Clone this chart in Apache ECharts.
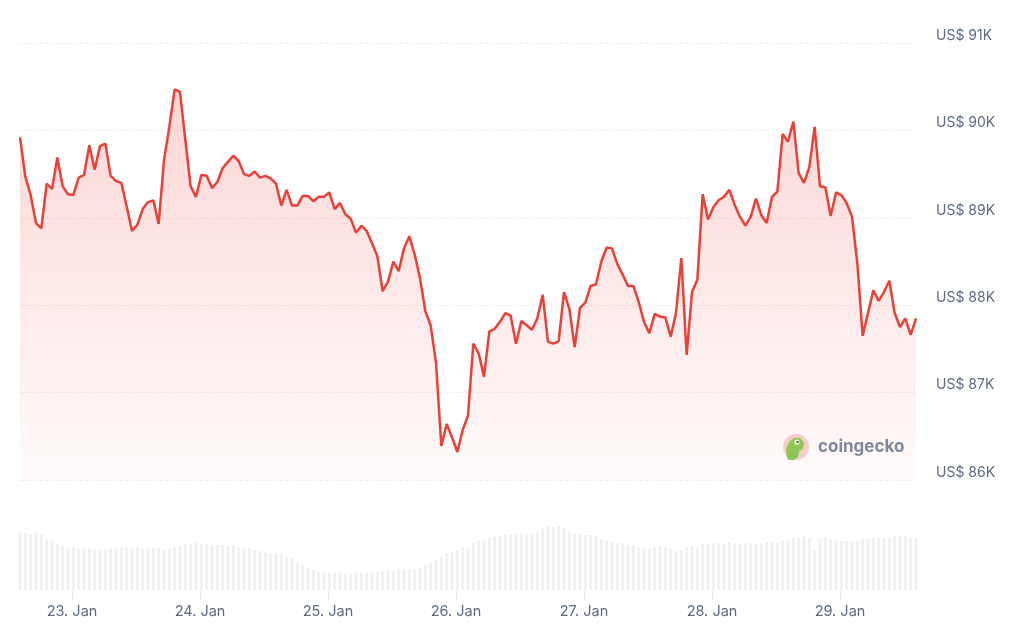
<!DOCTYPE html>
<html>
<head>
<meta charset="utf-8">
<script src="https://cdn.jsdelivr.net/npm/echarts@6/dist/echarts.min.js"></script>
<style>
  html, body { margin: 0; padding: 0; background: #ffffff; }
  #chart { width: 1024px; height: 633px; }
</style>
</head>
<body>
<div id="chart"></div>
<script>
// x positions are hours relative to 23 Jan 00:00; first point at 22 Jan 14:15
const startHour = -9.75;

// BTC price in USD, one point per hour
const prices = [
  89920, 89470, 89260, 88940, 88880, 89390, 89330, 89690, 89360, 89270,
  89260, 89460, 89490, 89830, 89550, 89820, 89850, 89480, 89420, 89400,
  89130, 88850, 88920, 89100, 89180, 89200, 88930, 89660, 90040, 90470,
  90440,
  89890, 89360, 89240, 89490, 89480, 89340, 89410, 89570, 89640, 89710,
  89650, 89500, 89480, 89530, 89460, 89480, 89450, 89390, 89140, 89320,
  89140, 89140, 89250, 89250, 89190, 89240, 89240, 89290, 89100, 89170,
  89040,
  88990, 88830, 88910, 88850, 88710, 88560, 88160, 88270, 88500, 88390,
  88650, 88790, 88580, 88310, 87930, 87770, 87340, 86390, 86640, 86490,
  86320, 86570, 86740, 87560, 87450,
  87180, 87700, 87730, 87810, 87910, 87880, 87560, 87820, 87770, 87720,
  87850, 88120, 87580, 87560, 87590, 88150, 87960, 87520, 87970, 88030,
  88220, 88240, 88500, 88660, 88650, 88470, 88350, 88220,
  88220, 88040, 87810, 87680, 87900, 87870, 87860, 87640, 87910, 88540,
  87430, 88150, 88290, 89270, 88980, 89120, 89200, 89240, 89320, 89150,
  89010, 88910, 89010, 89220, 89030, 88940, 89240, 89300, 89960, 89870,
  90100,
  89510, 89400, 89580, 90040, 89360, 89350, 89020, 89290, 89260, 89170,
  89010, 88480, 87650, 87910, 88170, 88050, 88150, 88280, 87910, 87750,
  87850, 87660, 87850
];

// Volume (relative units), one bar per hour
const volumes = [
  172, 172, 168, 172, 165, 150, 150, 140, 132, 128,
  128, 125, 125, 125, 122, 122, 122, 125, 125, 128,
  128, 128, 128, 125, 125, 125, 125, 120, 125, 128,
  132, 138, 140, 142, 140, 138, 135, 135, 135, 132,
  132, 128, 128, 125, 120, 117, 113, 110, 110, 110,
  98, 95, 82, 75, 68, 60, 55, 52, 52, 52,
  52, 48, 50, 52, 52, 52, 55, 55, 58, 58,
  58, 62, 62, 62, 62, 65, 75, 80, 90, 100,
  110, 112, 120, 128,
  125, 142, 147, 153, 157, 160, 163, 167, 167, 170,
  170, 167, 170, 175, 185, 193, 190, 193, 185, 175,
  170, 168, 165, 165, 160, 152, 148, 145, 140, 140,
  135, 132, 128, 128, 125, 128, 132, 128, 125, 117,
  120, 128, 132, 128, 140, 140, 140, 140, 140, 143,
  140, 140, 140, 140, 140, 140, 143, 143, 143, 147,
  150, 157, 157, 160, 157, 120, 153, 157, 153, 150,
  147, 147, 147, 147, 152, 153, 157, 157, 157, 157,
  162, 162, 162, 157, 157
];

// Date ticks (hours from 23 Jan 00:00) and their labels
const dayTickHours = [0, 24, 48, 72, 96, 120, 144];
const dayLabels = ['23. Jan', '24. Jan', '25. Jan', '26. Jan', '27. Jan', '28. Jan', '29. Jan'];
const priceTicks = [86000, 87000, 88000, 89000, 90000, 91000];

const xs = prices.map((_, i) => startHour + i);
const priceData = prices.map((v, i) => [xs[i], v]);
const volumeData = volumes.map((v, i) => [xs[i], v]);
const xMin = xs[0], xMax = xs[xs.length - 1];

const labelColor = '#5f6b80';
const fontFamily = 'Inter, "Noto Sans", sans-serif';

const chart = echarts.init(document.getElementById('chart'), null, { renderer: 'canvas' });
chart.setOption({
  animation: false,
  backgroundColor: '#ffffff',
  grid: [
    { left: 20, right: 108, top: 43, height: 437 },
    { left: 20, right: 108, top: 525, height: 65 }
  ],
  xAxis: [
    { type: 'value', gridIndex: 0, min: xMin, max: xMax, show: false, splitLine: { show: false } },
    {
      type: 'value', gridIndex: 1, min: xMin, max: xMax,
      axisLine: { show: false },
      axisTick: { show: true, customValues: dayTickHours, length: 10, lineStyle: { color: '#e6e8ec' } },
      axisLabel: {
        customValues: dayTickHours,
        color: labelColor, fontSize: 14.5, fontFamily: fontFamily, margin: 14,
        formatter: function (v) {
          const k = dayTickHours.indexOf(v);
          return k >= 0 ? dayLabels[k] : '';
        }
      },
      splitLine: { show: false }
    }
  ],
  yAxis: [
    {
      type: 'value', gridIndex: 0, position: 'right',
      min: priceTicks[0], max: priceTicks[priceTicks.length - 1], interval: 1000,
      axisLine: { show: false }, axisTick: { show: false },
      axisLabel: {
        color: labelColor, fontSize: 14, fontFamily: fontFamily, margin: 20,
        verticalAlign: 'bottom', lineHeight: 15, align: 'left',
        formatter: function (v) { return 'US$ ' + (v / 1000) + 'K'; }
      },
      splitLine: { show: true, lineStyle: { color: '#eceef1', type: [3, 2], width: 1 } }
    },
    {
      type: 'value', gridIndex: 1, min: 0, max: 195, show: false,
      splitLine: { show: false }
    }
  ],
  series: [
    {
      type: 'bar', xAxisIndex: 1, yAxisIndex: 1, data: volumeData,
      barWidth: 3, itemStyle: { color: '#eff0f3' }, silent: true
    },
    {
      type: 'line', xAxisIndex: 0, yAxisIndex: 0, data: priceData,
      symbol: 'none', smooth: false,
      lineStyle: { color: '#ea4038', width: 2.5 },
      areaStyle: {
        origin: 'start',
        color: new echarts.graphic.LinearGradient(0, 0, 0, 1, [
          { offset: 0, color: 'rgba(234, 64, 56, 0.30)' },
          { offset: 1, color: 'rgba(234, 64, 56, 0.03)' }
        ])
      }
    }
  ],
  graphic: [
    { type: 'circle', shape: { cx: 796, cy: 447, r: 13 }, style: { fill: '#f5cdc7' }, z: 10 },
    { type: 'polygon', shape: { points: [[787, 458], [786, 450], [789, 442], [794, 438], [800, 438], [804, 443], [803, 448], [799, 452], [798, 457], [794, 460], [789, 460]] }, style: { fill: '#8dc655' }, z: 11 },
    { type: 'circle', shape: { cx: 797, cy: 442, r: 2.6 }, style: { fill: '#ffffff' }, z: 12 },
    { type: 'circle', shape: { cx: 797.6, cy: 442, r: 1.3 }, style: { fill: '#5a6a3a' }, z: 13 },
    { type: 'text', x: 818, y: 447, style: { text: 'coingecko', fill: '#7f889b', font: 'bold 17px Inter, "Noto Sans", sans-serif', verticalAlign: 'middle' }, z: 10 }
  ]
});
</script>
</body>
</html>
